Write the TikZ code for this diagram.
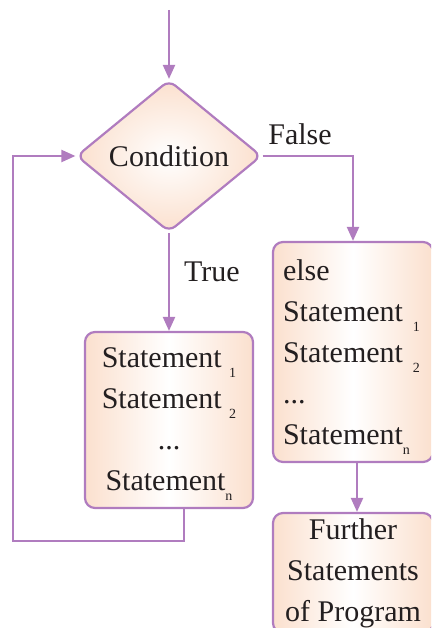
\documentclass[tikz,border=0pt]{standalone}
\usepackage{fontspec}
\setmainfont{Liberation Serif}
\usetikzlibrary{shapes.geometric,arrows.meta,positioning,calc}
\definecolor{flowline}{HTML}{B07CBF}
\definecolor{peach}{HTML}{FBE0CE}
\definecolor{inkgray}{HTML}{231F20}
\newcommand{\lowidx}[1]{\raisebox{-10pt}{\fontsize{14}{14}\selectfont #1}}

\begin{document}
\begin{tikzpicture}[x=1pt,y=-1pt,
    flow/.style={draw=flowline,line width=2.2pt,-{Triangle[length=14pt,width=12pt]}},
    stmtbox/.style={draw=flowline,line width=2.2pt,rounded corners=10pt,
        left color=peach,right color=peach,middle color=white,
        text=inkgray,font=\fontsize{30}{41}\selectfont},
    label/.style={text=inkgray,font=\fontsize{30}{36}\selectfont}]
    \clip (0,0) rectangle (431,628);

    % Decision
    \node[diamond,draw=flowline,line width=2.2pt,rounded corners=8pt,
        inner color=white,outer color=peach,aspect=1.22,
        minimum width=185pt,minimum height=152pt,inner sep=0pt,
        text=inkgray,font=\fontsize{30}{36}\selectfont] (cond) at (169,156) {Condition};

    % Branches
    \node[stmtbox,minimum width=168pt,minimum height=176pt,align=center] (body) at (169,420)
        {\rule{0pt}{27pt}Statement \lowidx{1}\\Statement \lowidx{2}\\...\\Statement\lowidx{n}};
    \node[stmtbox,minimum width=160pt,minimum height=220pt,text width=140pt,align=left] (else) at (353,352)
        {\rule{0pt}{30pt}else\\Statement \lowidx{1}\\Statement \lowidx{2}\\...\\Statement\lowidx{n}};
    \node[stmtbox,minimum width=160pt,minimum height=120pt,align=center,inner sep=2pt] (further) at (353,573)
        {Further\\Statements\\of Program};

    % Labels
    \node[label] (truelbl) at (212,272) {True};
    \node[label] (falselbl) at (300,134) {False};

    % Connectors
    \coordinate (entry) at (169,10);
    \coordinate (loopcorner) at (13,541);
    \draw[flow] (entry) -- (cond.north);
    \draw[flow] (cond.south) -- (body.north);
    \draw[flow] (cond.east) -| (else.north);
    \draw[flow] ([xshift=4pt]else.south) -- ([xshift=4pt]further.north);
    \draw[flow] ([xshift=15pt]body.south) |- (loopcorner) |- (cond.west);
\end{tikzpicture}
\end{document}
